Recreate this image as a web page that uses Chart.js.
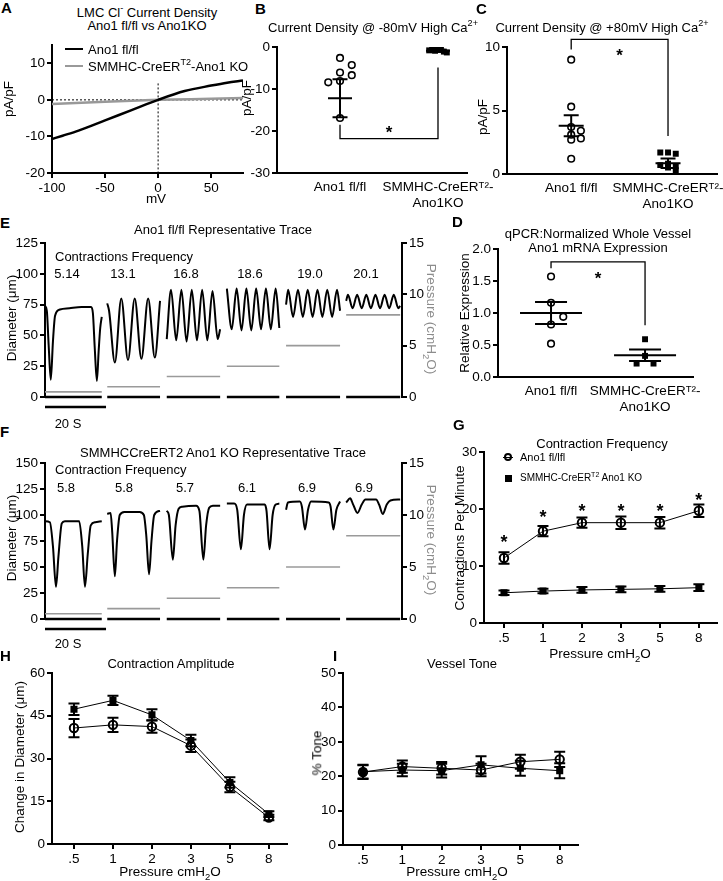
<!DOCTYPE html>
<html>
<head>
<meta charset="utf-8">
<script src="https://cdn.jsdelivr.net/npm/chart.js@4.4.1/dist/chart.umd.min.js"></script>
<style>
  body { margin: 0; width: 723px; height: 881px; position: relative; overflow: hidden; background: #fff;
         font-family: "Liberation Sans", Arial, sans-serif; }
  canvas { position: absolute; }
  .t { position: absolute; white-space: nowrap; line-height: 1; color: #000; }
  sup, sub { font-size: 70%; line-height: 0; }
  .ln { position: absolute; }
</style>
</head>
<body>
<canvas id="cA"></canvas><canvas id="cB"></canvas><canvas id="cC"></canvas>
<canvas id="cD"></canvas><canvas id="cE"></canvas><canvas id="cF"></canvas>
<canvas id="cG"></canvas><canvas id="cH"></canvas><canvas id="cI"></canvas>
<script>
// ---- A: current density I-V
const ivVoltage = [-100, -90, -75, -50, -25, 0, 25, 50, 65, 80];
const ivFlox = [-10.7, -9.8, -8.4, -5.6, -2.8, 0, 2.4, 3.9, 4.7, 5.3];
const ivKoVoltage = [-100, -50, 0, 50, 80];
const ivKo = [-1.1, -0.5, 0, 0.3, 0.5];

// ---- B, C, D: scatter dot plots
const groupLabels = ['Ano1 fl/fl', ['SMMHC-CreERᵀ²-', 'Ano1KO']];
const bFlox = [-2.6, -4.3, -6.1, -6.7, -8.1, -8.4, -16.9];
const bKo = [-0.5, -0.7, -0.9, -1.1, -0.6, -1.3, -0.8];
const bMean = [-12.2, -0.9];
const bSem = [4.5, 0.25];
const bBracket = [-18.5, -21.8, -4.9];
const bStar = -19.4;

const cFlox = [9.0, 5.3, 3.7, 3.4, 3.1, 2.8, 2.7, 1.2];
const cKo = [1.7, 1.6, 1.7, 0.8, 0.6, 0.5, 0.7, 0.3];
const cMean = [3.8, 0.85];
const cSem = [0.83, 0.38];
const cBracket = [9.8, 10.6, 3.0];
const cStar = 9.7;

const dFlox = [1.57, 1.16, 0.94, 0.82, 0.52];
const dKo = [0.59, 0.33, 0.21, 0.21];
const dMean = [1.0, 0.34];
const dSem = [0.17, 0.09];
const dBracket = [1.7, 1.8, 0.81];
const dStar = 1.6;

// ---- E, F: representative traces (time s, diameter um)
const segStart = [0, 20.4, 39.9, 59.6, 79.0, 98.7];
const segEnd = [18.6, 37.7, 57.4, 76.8, 96.7, 116.4];
const pressureSteps = [0.5, 1, 2, 3, 5, 8];
const eFreq = ['5.14', '13.1', '16.8', '18.6', '19.0', '20.1'];
const fFreq = ['5.8', '5.8', '5.7', '6.1', '6.9', '6.9'];

const eTraces = [
  [[0,74],[0.6,70],[1.2,42],[1.9,14],[2.6,45],[3.3,66],[4.9,71],[8,72],[12,73],[15.1,73],[15.7,68],[16.3,40],[17,13],[17.6,38],[18.1,56],[18.6,65]],
  [[20.4,76],[21.0,70],[22.9,28],[25.0,80],[27.2,30],[29.4,80],[31.6,31],[33.8,80],[36.0,32],[37.7,78]],
  [[39.9,47],[41.3,87],[43.0,46],[44.7,87],[46.4,45],[48.1,87],[49.8,46],[51.5,87],[53.2,46],[54.9,86],[56.6,47],[57.4,55]],
  [[59.6,88],[61.2,55],[62.8,88],[64.4,54],[66.0,88],[67.6,54],[69.2,88],[70.8,55],[72.4,88],[74.0,55],[75.6,88],[76.8,56]],
  [[79.0,75],[79.7,87],[81.3,65],[82.9,87],[84.5,65],[86.1,87],[87.7,65],[89.3,87],[90.9,65],[92.5,87],[94.1,65],[95.7,87],[96.7,70]],
  [[98.7,78],[99.3,83],[100.8,72],[102.3,83],[103.8,72],[105.3,83],[106.8,72],[108.3,83],[109.8,72],[111.3,83],[112.8,72],[114.3,83],[115.8,72],[116.4,74]]
];
const fTraces = [
  [[0,94],[1.6,93],[2.6,70],[3.6,31],[4.4,60],[5.5,92],[6.5,94],[11.2,94],[12.2,70],[13.1,31],[14,62],[15,90],[16.5,93],[18.6,94]],
  [[20.4,101],[21.5,102],[22.0,85],[22.9,41],[23.6,75],[24.5,100],[26,103],[31,103],[32.4,100],[33.2,80],[34.1,43],[34.9,75],[35.8,100],[37.7,104]],
  [[39.9,104],[40.6,100],[41.9,57],[42.8,90],[43.8,106],[45,108],[49.5,109],[50.6,104],[51.9,57],[52.8,90],[53.8,107],[55,109],[57.4,109]],
  [[59.6,111],[62,111],[63,105],[64.2,67],[65.2,100],[66.2,110],[72,110],[72.6,104],[73.6,67],[74.6,100],[75.6,110],[76.8,111]],
  [[79,105],[79.6,112],[83.5,113],[84.2,108],[85.2,86],[86.2,105],[87.2,113],[93,112],[93.6,108],[94.5,86],[95.5,105],[96.7,113]],
  [[98.7,112],[100,116],[101,110],[102.4,102],[103.8,110],[105,115],[108.5,115],[109.5,110],[110.7,101],[112,110],[113.2,114],[116.4,115]]
];

// ---- G, H, I: summary vs pressure
const pressureLabels = ['.5', '1', '2', '3', '5', '8'];
const gFlox = [11.4, 16.1, 17.6, 17.6, 17.6, 19.7];
const gFloxErr = [1.0, 0.9, 0.9, 1.1, 1.0, 1.1];
const gKo = [5.3, 5.6, 5.8, 5.9, 6.0, 6.2];
const gKoErr = [0.4, 0.4, 0.5, 0.5, 0.5, 0.6];
const gStars = [15, 19.3, 20.5, 20.5, 20.5, 22.3];

const hFlox = [40.7, 41.8, 41.2, 34.5, 20.0, 9.3];
const hFloxErr = [3.2, 2.5, 2.2, 2.2, 1.8, 1.0];
const hKo = [47.3, 50.4, 45.3, 36.3, 21.6, 10.5];
const hKoErr = [2.0, 1.6, 2.0, 2.0, 1.8, 1.0];

const iFlox = [21.2, 22.8, 22.3, 21.8, 24.2, 24.9];
const iFloxErr = [2.0, 1.8, 1.8, 1.8, 2.0, 2.2];
const iKo = [21.3, 21.8, 21.6, 23.3, 22.3, 21.6];
const iKoErr = [2.0, 1.8, 2.0, 2.5, 2.2, 2.2];

Chart.defaults.font.family = '"Liberation Sans", Arial, sans-serif';
Chart.defaults.font.size = 13.5;
Chart.defaults.color = '#000';
Chart.defaults.animation = false;
Chart.defaults.plugins.legend.display = false;
Chart.defaults.plugins.tooltip.enabled = false;

const FONT = '"Liberation Sans", Arial, sans-serif';

function zeroPad(s) { s.paddingTop = s.paddingBottom = s.paddingLeft = s.paddingRight = 0; }

function yAxis(min, max, ticks, width, extra) {
  return Object.assign({
    type: 'linear', position: 'left', min, max, bounds: 'data',
    border: { display: true, color: '#000', width: 2 },
    grid: { display: true, drawOnChartArea: false, drawTicks: true, tickLength: 5, color: '#000', lineWidth: 2 },
    ticks: { padding: 2, color: '#000', autoSkip: false },
    afterBuildTicks: s => { s.ticks = ticks.map(v => ({ value: v })); },
    afterFit: s => { s.width = width; zeroPad(s); }
  }, extra || {});
}

function xAxis(min, max, ticks, height, labels, withTicks) {
  return {
    type: 'linear', position: 'bottom', min, max, bounds: 'data',
    border: { display: true, color: '#000', width: 2 },
    grid: { display: true, drawOnChartArea: false, drawTicks: withTicks, tickLength: 5, color: '#000', lineWidth: 2 },
    ticks: { padding: withTicks ? 2 : 6, color: '#000', autoSkip: false, maxRotation: 0, minRotation: 0,
             callback: v => labels[v] },
    afterBuildTicks: s => { s.ticks = ticks.map(v => ({ value: v })); },
    afterFit: s => { s.height = height; zeroPad(s); }
  };
}

function place(id, area, gut) {
  const c = document.getElementById(id);
  const w = area[2] - area[0] + gut[0] + gut[2];
  const h = area[3] - area[1] + gut[1] + gut[3];
  c.width = w; c.height = h;
  c.style.width = w + 'px'; c.style.height = h + 'px';
  c.style.left = (area[0] - gut[0]) + 'px';
  c.style.top = (area[1] - gut[1]) + 'px';
  return c;
}

function swarm(vals, tol, step) {
  const placed = [];
  return vals.map(v => {
    let off = 0;
    for (let i = 0; i < 12; i++) {
      off = i === 0 ? 0 : (i % 2 ? 1 : -1) * Math.ceil(i / 2) * step;
      if (!placed.some(p => Math.abs(p.v - v) < tol && Math.abs(p.o - off) < step * 0.9)) break;
    }
    placed.push({ v, o: off });
    return off;
  });
}

function starAt(ctx, x, y, size) {
  ctx.font = 'bold ' + size + 'px ' + FONT;
  ctx.textAlign = 'center';
  ctx.textBaseline = 'alphabetic';
  ctx.fillText('*', x, y + size * 0.58);
}

// draws error bars, mean/SEM lines, brackets, stars, scale bars through the chart scales
function decor(spec) {
  return {
    id: 'decor',
    beforeDatasetsDraw(chart) {
      const ctx = chart.ctx, xs = chart.scales.x, ys = chart.scales.y;
      ctx.save();
      ctx.strokeStyle = '#000';
      ctx.lineWidth = 2;
      (spec.errors || []).forEach(e => {
        e.mean.forEach((m, i) => {
          const x = xs.getPixelForValue(i);
          const lo = ys.getPixelForValue(m - e.err[i]), hi = ys.getPixelForValue(m + e.err[i]);
          ctx.beginPath();
          ctx.moveTo(x, lo); ctx.lineTo(x, hi);
          ctx.moveTo(x - 5.5, lo); ctx.lineTo(x + 5.5, lo);
          ctx.moveTo(x - 5.5, hi); ctx.lineTo(x + 5.5, hi);
          ctx.stroke();
        });
      });
      ctx.restore();
    },
    afterDatasetsDraw(chart) {
      const ctx = chart.ctx, xs = chart.scales.x, ys = chart.scales.y;
      ctx.save();
      ctx.strokeStyle = '#000';
      ctx.fillStyle = '#000';
      if (spec.summary) {
        const s = spec.summary;
        ctx.lineWidth = 2;
        s.mean.forEach((m, i) => {
          const x = xs.getPixelForValue(i);
          const y = ys.getPixelForValue(m);
          const lo = ys.getPixelForValue(m - s.sem[i]), hi = ys.getPixelForValue(m + s.sem[i]);
          ctx.beginPath();
          ctx.moveTo(x - s.half, y); ctx.lineTo(x + s.half, y);
          ctx.moveTo(x, lo); ctx.lineTo(x, hi);
          ctx.moveTo(x - s.cap, lo); ctx.lineTo(x + s.cap, lo);
          ctx.moveTo(x - s.cap, hi); ctx.lineTo(x + s.cap, hi);
          ctx.stroke();
        });
      }
      if (spec.bracket) {
        const b = spec.bracket;
        const x0 = xs.getPixelForValue(0), x1 = xs.getPixelForValue(1);
        ctx.lineWidth = 1.3;
        ctx.beginPath();
        ctx.moveTo(x0, ys.getPixelForValue(b[0]));
        ctx.lineTo(x0, ys.getPixelForValue(b[1]));
        ctx.lineTo(x1, ys.getPixelForValue(b[1]));
        ctx.lineTo(x1, ys.getPixelForValue(b[2]));
        ctx.stroke();
        starAt(ctx, xs.getPixelForValue(0.5), ys.getPixelForValue(spec.star), 17);
      }
      (spec.stars || []).forEach((v, i) => {
        starAt(ctx, xs.getPixelForValue(i), ys.getPixelForValue(v), 18);
      });
      if (spec.scaleBar) {
        const y = ys.getPixelForValue(0) + 10;
        ctx.lineWidth = 2.5;
        ctx.beginPath();
        ctx.moveTo(xs.getPixelForValue(spec.scaleBar[0]), y);
        ctx.lineTo(xs.getPixelForValue(spec.scaleBar[1]), y);
        ctx.stroke();
      }
      ctx.restore();
    }
  };
}

function pts(xs, ys) { return ys.map((y, i) => ({ x: xs[i], y })); }

// ---------- A
place('cA', [52, 45, 243, 173], [52, 10, 15, 40]);
new Chart('cA', {
  type: 'line',
  data: { datasets: [
    { data: pts(ivVoltage, ivFlox), borderColor: '#000', borderWidth: 2.5, pointRadius: 0, cubicInterpolationMode: 'monotone' },
    { data: pts(ivKoVoltage, ivKo), borderColor: '#999', borderWidth: 2.5, pointRadius: 0, cubicInterpolationMode: 'monotone' },
    { data: [{ x: -100, y: 0 }, { x: 80, y: 0 }], borderColor: '#000', borderWidth: 1, borderDash: [2, 2], pointRadius: 0 },
    { data: [{ x: 0, y: 4.5 }, { x: 0, y: -20 }], borderColor: '#000', borderWidth: 1, borderDash: [2, 2], pointRadius: 0 }
  ] },
  options: {
    responsive: false, devicePixelRatio: 1,
    layout: { padding: { top: 10, right: 15, left: 0, bottom: 0 } },
    scales: {
      x: xAxis(-100, 80, [-100, -50, 0, 50], 40, { '-100': '-100', '-50': '-50', '0': '0', '50': '50' }, true),
      y: yAxis(-20, 15, [-20, -10, 0, 10], 52)
    }
  }
});

// ---------- B, C, D scatter dot plots
function dotPlot(id, area, gut, range, yr, yt, flox, ko, mean, sem, bracket, star, sw, half, cap, yfmt) {
  place(id, area, gut);
  const fo = swarm(flox, sw[0], sw[1]);
  const ko2 = swarm(ko, sw[2], sw[3]);
  const y = yAxis(yr[0], yr[1], yt, gut[0]);
  if (yfmt) y.ticks.callback = yfmt;
  new Chart(id, {
    type: 'scatter',
    data: { datasets: [
      { data: flox.map((v, i) => ({ x: fo[i], y: v })), pointStyle: 'circle', pointRadius: 3.3,
        pointBorderWidth: 1.6, borderColor: '#000', backgroundColor: 'rgba(0,0,0,0)' },
      { data: ko.map((v, i) => ({ x: 1 + ko2[i], y: v })), pointStyle: 'rect', pointRadius: 4.2,
        pointBorderWidth: 0, borderColor: '#000', backgroundColor: '#000' }
    ] },
    options: {
      responsive: false, devicePixelRatio: 1,
      layout: { padding: { top: gut[1], right: gut[2], left: 0, bottom: 0 } },
      scales: { x: xAxis(range[0], range[1], [0, 1], gut[3], groupLabels, false), y }
    },
    plugins: [decor({ summary: { mean, sem, half, cap }, bracket, star })]
  });
}

dotPlot('cB', [277, 47, 467, 173], [50, 10, 40, 45], [-0.643, 1.296], [-30, 0], [-30, -20, -10, 0],
  bFlox, bKo, bMean, bSem, bBracket, bStar, [2.0, 0.12, 1.5, 0.03], 12, 7.5);
dotPlot('cC', [507, 47, 720, 174], [50, 10, 3, 45], [-0.663, 1.51], [0, 10], [0, 5, 10],
  cFlox, cKo, cMean, cSem, cBracket, cStar, [0.35, 0.1, 0.3, 0.08], 12.5, 7.5);
dotPlot('cD', [498, 249, 693, 377], [50, 10, 10, 45], [-0.564, 1.51], [0, 2], [0, 0.5, 1, 1.5, 2],
  dFlox, dKo, dMean, dSem, dBracket, dStar, [0.25, 0.13, 0.15, 0.09], 31, 16, v => v.toFixed(1));

// ---------- E, F traces
function tracePlot(id, area, traces, ymax, yt) {
  place(id, area, [45, 10, 40, 25]);
  const ds = [];
  traces.forEach(tr => ds.push({ data: tr, borderColor: '#000', borderWidth: 2, pointRadius: 0,
    cubicInterpolationMode: 'monotone', clip: false }));
  segStart.forEach((s, i) => ds.push({ data: [[s, 0], [segEnd[i], 0]], borderColor: '#000', borderWidth: 2.5,
    pointRadius: 0, clip: false }));
  segStart.forEach((s, i) => ds.push({ data: [[s, pressureSteps[i]], [segEnd[i], pressureSteps[i]]], yAxisID: 'y1',
    borderColor: '#9a9a9a', borderWidth: 1.6, pointRadius: 0, clip: false }));
  new Chart(id, {
    type: 'line',
    data: { datasets: ds },
    options: {
      responsive: false, devicePixelRatio: 1,
      layout: { padding: { top: 10, right: 0, left: 0, bottom: 25 } },
      scales: {
        x: { type: 'linear', display: false, min: 0, max: 117 },
        y: yAxis(0, ymax, yt, 45),
        y1: yAxis(0, 15, [0, 5, 10, 15], 40, { position: 'right' })
      }
    },
    plugins: [decor({ scaleBar: [0, 20] })]
  });
}
tracePlot('cE', [45, 243, 402, 397], eTraces, 125, [0, 25, 50, 75, 100, 125]);
tracePlot('cF', [45, 463, 402, 619], fTraces, 150, [0, 25, 50, 75, 100, 125, 150]);

// ---------- G, H, I
function pressurePlot(id, area, range, yr, yt, flox, floxErr, ko, koErr, stars) {
  place(id, area, [50, 10, 6, 30]);
  new Chart(id, {
    type: 'line',
    data: { datasets: [
      { data: flox.map((v, i) => ({ x: i, y: v })), borderColor: '#000', borderWidth: 1, pointStyle: 'circle',
        pointRadius: 4.2, pointBorderWidth: 2, pointBackgroundColor: 'rgba(0,0,0,0)', pointBorderColor: '#000' },
      { data: ko.map((v, i) => ({ x: i, y: v })), borderColor: '#000', borderWidth: 1, pointStyle: 'rect',
        pointRadius: 5, pointBorderWidth: 0, pointBackgroundColor: '#000' }
    ] },
    options: {
      responsive: false, devicePixelRatio: 1,
      layout: { padding: { top: 10, right: 6, left: 0, bottom: 0 } },
      scales: { x: xAxis(range[0], range[1], [0, 1, 2, 3, 4, 5], 30, pressureLabels, true),
                y: yAxis(yr[0], yr[1], yt, 50) }
    },
    plugins: [decor({ errors: [{ mean: flox, err: floxErr }, { mean: ko, err: koErr }], stars })]
  });
}
pressurePlot('cG', [484, 452, 717, 623], [-0.513, 5.46], [0, 30], [0, 10, 20, 30], gFlox, gFloxErr, gKo, gKoErr, gStars);
pressurePlot('cH', [52, 673, 287, 844], [-0.564, 5.46], [0, 60], [0, 15, 30, 45, 60], hFlox, hFloxErr, hKo, hKoErr, []);
pressurePlot('cI', [343, 673, 578, 845], [-0.508, 5.46], [0, 50], [0, 10, 20, 30, 40, 50], iFlox, iFloxErr, iKo, iKoErr, []);

// ---------- text
function lab(html, x, y, o) {
  o = o || {};
  const d = document.createElement('div');
  d.className = 't';
  d.innerHTML = html;
  d.style.left = x + 'px';
  d.style.top = y + 'px';
  d.style.fontSize = (o.size || 13) + 'px';
  if (o.bold) d.style.fontWeight = 'bold';
  if (o.color) d.style.color = o.color;
  const ax = o.align === 'left' ? '0' : '-50%';
  const ay = o.top ? '0' : '-50%';
  d.style.transform = 'translate(' + ax + ',' + ay + ')' + (o.rot ? ' rotate(' + o.rot + 'deg)' : '');
  document.body.appendChild(d);
}
function box(x, y, w, h, css) {
  const d = document.createElement('div');
  d.className = 'ln';
  d.style.cssText = 'left:' + x + 'px;top:' + y + 'px;width:' + w + 'px;height:' + h + 'px;' + css;
  document.body.appendChild(d);
}

[['A', 1, 0], ['B', 255, 1], ['C', 476, 1], ['E', 0, 215], ['D', 452, 214], ['F', 0, 424],
 ['G', 453, 417], ['H', 0, 648], ['I', 333, 648]].forEach(l => lab(l[0], l[1], l[2], { bold: true, size: 15, align: 'left', top: true }));

lab('LMC Cl<sup>-</sup> Current Density', 147, 12);
lab('Ano1 fl/fl vs Ano1KO', 147, 25);
lab('Current Density @ -80mV High Ca<sup>2+</sup>', 373, 27);
lab('Current Density @ +80mV High Ca<sup>2+</sup>', 602, 27);
lab('qPCR:Normalized Whole Vessel', 598, 233);
lab('Ano1 mRNA Expression', 598, 247);
lab('Ano1 fl/fl Representative Trace', 223, 229);
lab('SMMHCCreERT2 Ano1 KO Representative Trace', 223, 452);
lab('Contraction Frequency', 602, 443);
lab('Contraction Amplitude', 171, 663);
lab('Vessel Tone', 462, 663);

lab('pA/pF', 9, 99, { rot: -90, size: 13.5 });
lab('mV', 156, 199, { size: 13.5 });
lab('pA/pF', 247, 98, { rot: -90, size: 13.5 });
lab('pA/pF', 483, 117, { rot: -90, size: 13.5 });
lab('Relative Expression', 465, 313, { rot: -90, size: 13.5 });
lab('Diameter (μm)', 12, 318, { rot: -90, size: 13.5 });
lab('Pressure (cmH<sub>2</sub>O)', 431, 319, { rot: 90, size: 13.5, color: '#8c8c8c' });
lab('Diameter (μm)', 12, 538, { rot: -90, size: 13.5 });
lab('Pressure (cmH<sub>2</sub>O)', 431, 540, { rot: 90, size: 13.5, color: '#8c8c8c' });
lab('Contractions Per Minute', 460, 538, { rot: -90, size: 13.5 });
lab('Pressure cmH<sub>2</sub>O', 600, 654, { size: 13.5 });
lab('Change in Diameter (μm)', 20, 757, { rot: -90, size: 13.5 });
lab('Pressure cmH<sub>2</sub>O', 170, 872, { size: 13.5 });
lab('% Tone', 317, 753, { rot: -90, size: 13.5 });
lab('Pressure cmH<sub>2</sub>O', 457, 872, { size: 13.5 });

// E / F annotations
lab('Contractions Frequency', 55, 256, { align: 'left' });
const eNumX = [67, 123, 186, 250, 310, 366];
eFreq.forEach((v, i) => lab(v, eNumX[i], 273));
lab('20 S', 68, 423);
lab('Contraction Frequency', 55, 469, { align: 'left' });
const fNumX = [66, 124, 185, 247, 307, 364];
fFreq.forEach((v, i) => lab(v, fNumX[i], 487));
lab('20 S', 68, 643);

// A legend
box(65, 48, 18, 0, 'border-top:2.5px solid #000;');
lab('Ano1 fl/fl', 88, 49, { align: 'left' });
box(65, 65, 18, 0, 'border-top:2.5px solid #999;');
lab('SMMHC-CreER<sup>T2</sup>-Ano1 KO', 88, 66, { align: 'left' });

// G legend
box(504, 453, 8, 8, 'border:2px solid #000;border-radius:50%;box-sizing:border-box;');
box(503, 456.5, 10, 0, 'border-top:1px solid #000;');
lab('Ano1 fl/lfl', 520, 457, { align: 'left', size: 11 });
box(504.5, 474.5, 7, 7, 'background:#000;');
lab('SMMHC-CreER<sup>T2</sup> Ano1 KO', 520, 478, { align: 'left', size: 10 });
</script>
</body>
</html>
